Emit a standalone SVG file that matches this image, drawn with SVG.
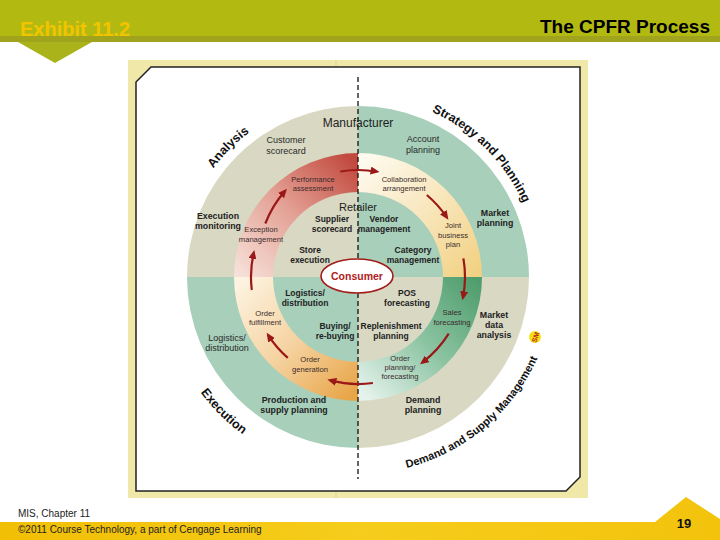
<svg xmlns="http://www.w3.org/2000/svg" width="720" height="540" viewBox="0 0 720 540">
<defs>
<style>
text{font-family:"Liberation Sans",Arial,sans-serif}
.o{font-size:9px;fill:#2a2a2a;text-anchor:middle}
.ob{font-size:8.8px;font-weight:bold;fill:#222;text-anchor:middle}
.r{font-size:7.6px;fill:#3a2c2c;text-anchor:middle}
.i{font-size:8.5px;font-weight:bold;fill:#222;text-anchor:middle}
.cap{font-size:12.5px;font-weight:bold;fill:#111}
.arr{fill:none;stroke:#9a1818;stroke-width:2.2;marker-end:url(#ah)}
</style>
<marker id="ah" markerWidth="9" markerHeight="8" refX="6" refY="4" orient="auto" markerUnits="userSpaceOnUse">
<path d="M0,0 L9,4 L0,8 Z" fill="#9a1818"/>
</marker>
<linearGradient id="gTL" gradientUnits="userSpaceOnUse" x1="240" y1="275" x2="352" y2="160">
<stop offset="0" stop-color="#f6e0d8"/><stop offset="0.5" stop-color="#e4a195"/><stop offset="1" stop-color="#c24a3f"/>
</linearGradient>
<linearGradient id="gTR" gradientUnits="userSpaceOnUse" x1="364" y1="160" x2="478" y2="272">
<stop offset="0" stop-color="#fefaee"/><stop offset="0.5" stop-color="#f8e6bc"/><stop offset="1" stop-color="#f2d183"/>
</linearGradient>
<linearGradient id="gBR" gradientUnits="userSpaceOnUse" x1="478" y1="282" x2="364" y2="396">
<stop offset="0" stop-color="#4f9d6d"/><stop offset="0.5" stop-color="#8cc4a2"/><stop offset="1" stop-color="#e6f3ed"/>
</linearGradient>
<linearGradient id="gBL" gradientUnits="userSpaceOnUse" x1="240" y1="282" x2="352" y2="396">
<stop offset="0" stop-color="#fdf3e0"/><stop offset="0.5" stop-color="#f5d3a2"/><stop offset="1" stop-color="#e8a548"/>
</linearGradient>
<linearGradient id="gFoot" x1="0" y1="0" x2="1" y2="0">
<stop offset="0" stop-color="#f1bf05"/><stop offset="0.5" stop-color="#f6cd1c"/><stop offset="1" stop-color="#f3c30c"/>
</linearGradient>
<path id="pAnalysis" d="M183.2,230.2 A181,181 0 0 1 311.2,102.2"/>
<path id="pStrategy" d="M358,96 A181,181 0 0 1 539,277"/>
<path id="pExecution" d="M163.7,294 A195,195 0 0 0 341,471.3"/>
<path id="pDemand" d="M323.8,471 A197,197 0 0 0 555,277"/>
</defs>

<rect width="720" height="540" fill="#ffffff"/>

<g id="header">
<rect x="0" y="0" width="720" height="36" fill="#b2ba12"/>
<rect x="0" y="36" width="720" height="6" fill="#a0a31c"/>
<polygon points="18,42 92,42 55,63" fill="#aab31a"/>
<text x="20" y="36" font-size="20" font-weight="bold" fill="#f2c400">Exhibit 11.2</text>
<text x="710" y="33" font-size="19" font-weight="bold" fill="#000" text-anchor="end">The CPFR Process</text>
</g>

<g id="panel">
<rect x="128" y="60" width="460" height="438" fill="#efe8a8"/>
<line x1="336" y1="60" x2="336" y2="67" stroke="#ddd592" stroke-width="1"/>
<line x1="336" y1="491" x2="336" y2="498" stroke="#ddd592" stroke-width="1"/>
<polygon points="151,67 580,67 580,477 566,491 136,491 136,82" fill="#fff" stroke="#222" stroke-width="1.5"/>
</g>

<g id="quadrants">
<path d="M358,277 L187,277 A171,171 0 0 1 358,106 Z" fill="#d8d8c3"/>
<path d="M358,277 L358,106 A171,171 0 0 1 529,277 Z" fill="#a7cfba"/>
<path d="M358,277 L529,277 A171,171 0 0 1 358,448 Z" fill="#d8d8c3"/>
<path d="M358,277 L358,448 A171,171 0 0 1 187,277 Z" fill="#a7cfba"/>
<path d="M234,277 A124,124 0 0 1 358,153 L358,192 A85,85 0 0 0 273,277 Z" fill="url(#gTL)"/>
<path d="M358,153 A124,124 0 0 1 482,277 L443,277 A85,85 0 0 0 358,192 Z" fill="url(#gTR)"/>
<path d="M482,277 A124,124 0 0 1 358,401 L358,362 A85,85 0 0 0 443,277 Z" fill="url(#gBR)"/>
<path d="M358,401 A124,124 0 0 1 234,277 L273,277 A85,85 0 0 0 358,362 Z" fill="url(#gBL)"/>
<line x1="358" y1="77" x2="358" y2="479" stroke="#111" stroke-width="1.3" stroke-dasharray="5 3"/>
</g>

<g id="connectors">
<path class="arr" d="M340.3,171.5 A107,107 0 0 1 376.6,171.6"/>
<path class="arr" d="M426.8,195 A107,107 0 0 1 446.7,217.2"/>
<path class="arr" d="M463.4,258.4 A107,107 0 0 1 463,297.4"/>
<path class="arr" d="M448.7,333.7 A107,107 0 0 1 422.4,362.5"/>
<path class="arr" d="M372.9,383 A107,107 0 0 1 330.3,380.4"/>
<path class="arr" d="M287.8,357.8 A107,107 0 0 1 268.3,335.3"/>
<path class="arr" d="M251.8,290 A107,107 0 0 1 253.7,252.9"/>
<path class="arr" d="M265.3,223.5 A110,110 0 0 1 285,191"/>
</g>

<g id="consumer">
<ellipse cx="357" cy="276" rx="36" ry="17" fill="#fff" stroke="#a31c1c" stroke-width="1.6"/>
<text x="357" y="280" font-size="10.5" font-weight="bold" fill="#b01c1c" text-anchor="middle">Consumer</text>
</g>

<g id="manufacturer">
<text x="358" y="127" font-size="12" fill="#222" text-anchor="middle">Manufacturer</text>
<text class="o" x="286" y="143">Customer<tspan x="286" dy="11">scorecard</tspan></text>
<text class="o" x="423" y="142">Account<tspan x="423" dy="10.5">planning</tspan></text>
<text class="ob" x="218" y="219">Execution<tspan x="218" dy="10">monitoring</tspan></text>
<text class="ob" x="495" y="216">Market<tspan x="495" dy="10">planning</tspan></text>
<text class="ob" x="494" y="318">Market<tspan x="494" dy="10">data</tspan><tspan x="494" dy="10">analysis</tspan></text>
<text class="o" x="227" y="341">Logistics/<tspan x="227" dy="9.5">distribution</tspan></text>
<text class="ob" x="294" y="403" font-size="9">Production and<tspan x="294" dy="10">supply planning</tspan></text>
<text class="ob" x="423" y="403" font-size="9">Demand<tspan x="423" dy="10">planning</tspan></text>
</g>

<g id="collaboration">
<text class="r" x="313" y="182">Performance<tspan x="313" dy="9">assessment</tspan></text>
<text class="r" x="404" y="182">Collaboration<tspan x="404" dy="9">arrangement</tspan></text>
<text class="r" x="261" y="232">Exception<tspan x="261" dy="10">management</tspan></text>
<text class="r" x="453" y="228">Joint<tspan x="453" dy="9.5">business</tspan><tspan x="453" dy="9.5">plan</tspan></text>
<text class="r" x="452" y="315">Sales<tspan x="452" dy="10">forecasting</tspan></text>
<text class="r" x="400" y="361">Order<tspan x="400" dy="9">planning/</tspan><tspan x="400" dy="9">forecasting</tspan></text>
<text class="r" x="310" y="362">Order<tspan x="310" dy="10">generation</tspan></text>
<text class="r" x="265" y="316">Order<tspan x="265" dy="9">fulfillment</tspan></text>
</g>

<g id="retailer">
<text x="358" y="211" font-size="11" fill="#222" text-anchor="middle">Retailer</text>
<text class="i" x="332" y="222">Supplier<tspan x="332" dy="10">scorecard</tspan></text>
<text class="i" x="384" y="222">Vendor<tspan x="384" dy="10">management</tspan></text>
<text class="i" x="310" y="253">Store<tspan x="310" dy="10">execution</tspan></text>
<text class="i" x="413" y="253">Category<tspan x="413" dy="10">management</tspan></text>
<text class="i" x="305" y="296">Logistics/<tspan x="305" dy="9.5">distribution</tspan></text>
<text class="i" x="407" y="296">POS<tspan x="407" dy="10">forecasting</tspan></text>
<text class="i" x="335" y="329">Buying/<tspan x="335" dy="9.5">re-buying</tspan></text>
<text class="i" x="391" y="329">Replenishment<tspan x="391" dy="10">planning</tspan></text>
</g>

<g id="phases">
<text class="cap"><textPath href="#pAnalysis" startOffset="50%" text-anchor="middle">Analysis</textPath></text>
<text class="cap" font-size="12"><textPath href="#pStrategy" startOffset="50%" text-anchor="middle">Strategy and Planning</textPath></text>
<text class="cap" font-size="12"><textPath href="#pExecution" startOffset="50%" text-anchor="middle">Execution</textPath></text>
<text font-size="11" font-weight="bold" fill="#111"><textPath href="#pDemand" startOffset="50%" text-anchor="middle">Demand and Supply Management</textPath></text>
<circle cx="535" cy="337" r="6" fill="#f5e11a"/>
<text x="535" y="340" font-size="7" font-weight="bold" fill="#c01818" text-anchor="middle" transform="rotate(-71 535 337)">SM</text>
</g>

<g id="footer">
<polygon points="0,522 655,522 686,497 720,519 720,540 0,540" fill="url(#gFoot)"/>
<text x="18" y="517" font-size="10" fill="#222">MIS, Chapter 11</text>
<text x="18" y="533" font-size="10" fill="#222">©2011 Course Technology, a part of Cengage Learning</text>
<text x="684" y="528" font-size="13" font-weight="bold" fill="#111" text-anchor="middle">19</text>
</g>
</svg>
